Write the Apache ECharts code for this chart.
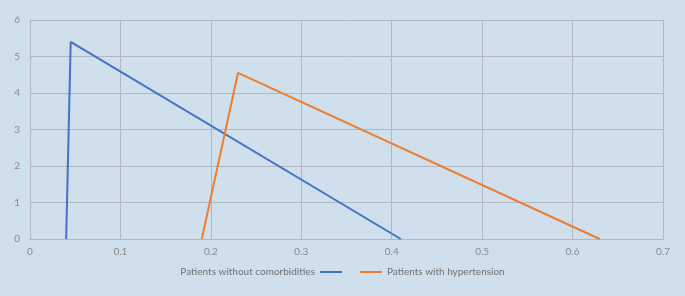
<!DOCTYPE html>
<html>
<head>
<meta charset="utf-8">
<script src="https://cdn.jsdelivr.net/npm/echarts@6/dist/echarts.min.js"></script>
<style>
  html, body { margin: 0; padding: 0; background: #cfe0ec; }
  #chart { width: 685px; height: 296px; }
</style>
</head>
<body>
<div id="chart"></div>
<script>
// series points as [x, y]
const noComorbidities = [[0.04, 0], [0.045, 5.4], [0.41, 0]];
const hypertension = [[0.19, 0], [0.23, 4.55], [0.63, 0]];
const seriesNames = ['Patients without comorbidities', 'Patients with hypertension'];

const gridColor = '#b4b6bf';
const labelColor = '#8a8a8a';

const chart = echarts.init(document.getElementById('chart'));

chart.setOption({
  backgroundColor: '#cfe0ec',
  animation: false,
  textStyle: { fontFamily: 'Lato, sans-serif' },
  legend: [
    {
      data: [seriesNames[0]],
      right: 343,
      top: 267,
      padding: 0,
      align: 'right',
      itemWidth: 22,
      itemHeight: 2,
      itemGap: 4,
      icon: 'rect',
      textStyle: { color: '#6f6f6f', fontSize: 10 }
    },
    {
      data: [seriesNames[1]],
      left: 360,
      top: 267,
      padding: 0,
      align: 'left',
      itemWidth: 22,
      itemHeight: 2,
      icon: 'rect',
      textStyle: { color: '#6f6f6f', fontSize: 10 }
    }
  ],
  grid: { left: 30, right: 22, top: 20, bottom: 57 },
  xAxis: {
    type: 'value',
    min: 0,
    max: 0.7,
    interval: 0.1,
    axisLine: { show: true, lineStyle: { color: gridColor } },
    axisTick: { show: false },
    axisLabel: { color: labelColor, fontSize: 10, margin: 8 },
    splitLine: { show: true, lineStyle: { color: gridColor } }
  },
  yAxis: {
    type: 'value',
    min: 0,
    max: 6,
    interval: 1,
    axisLine: { show: true, lineStyle: { color: gridColor } },
    axisTick: { show: false },
    axisLabel: { color: labelColor, fontSize: 10, margin: 10 },
    splitLine: { show: true, lineStyle: { color: gridColor } }
  },
  series: [
    {
      name: seriesNames[0],
      type: 'line',
      data: noComorbidities,
      showSymbol: false,
      itemStyle: { color: '#4472c4' },
      lineStyle: { width: 2, color: '#4472c4' }
    },
    {
      name: seriesNames[1],
      type: 'line',
      data: hypertension,
      showSymbol: false,
      itemStyle: { color: '#ed7d31' },
      lineStyle: { width: 2, color: '#ed7d31' }
    }
  ]
});
</script>
</body>
</html>
